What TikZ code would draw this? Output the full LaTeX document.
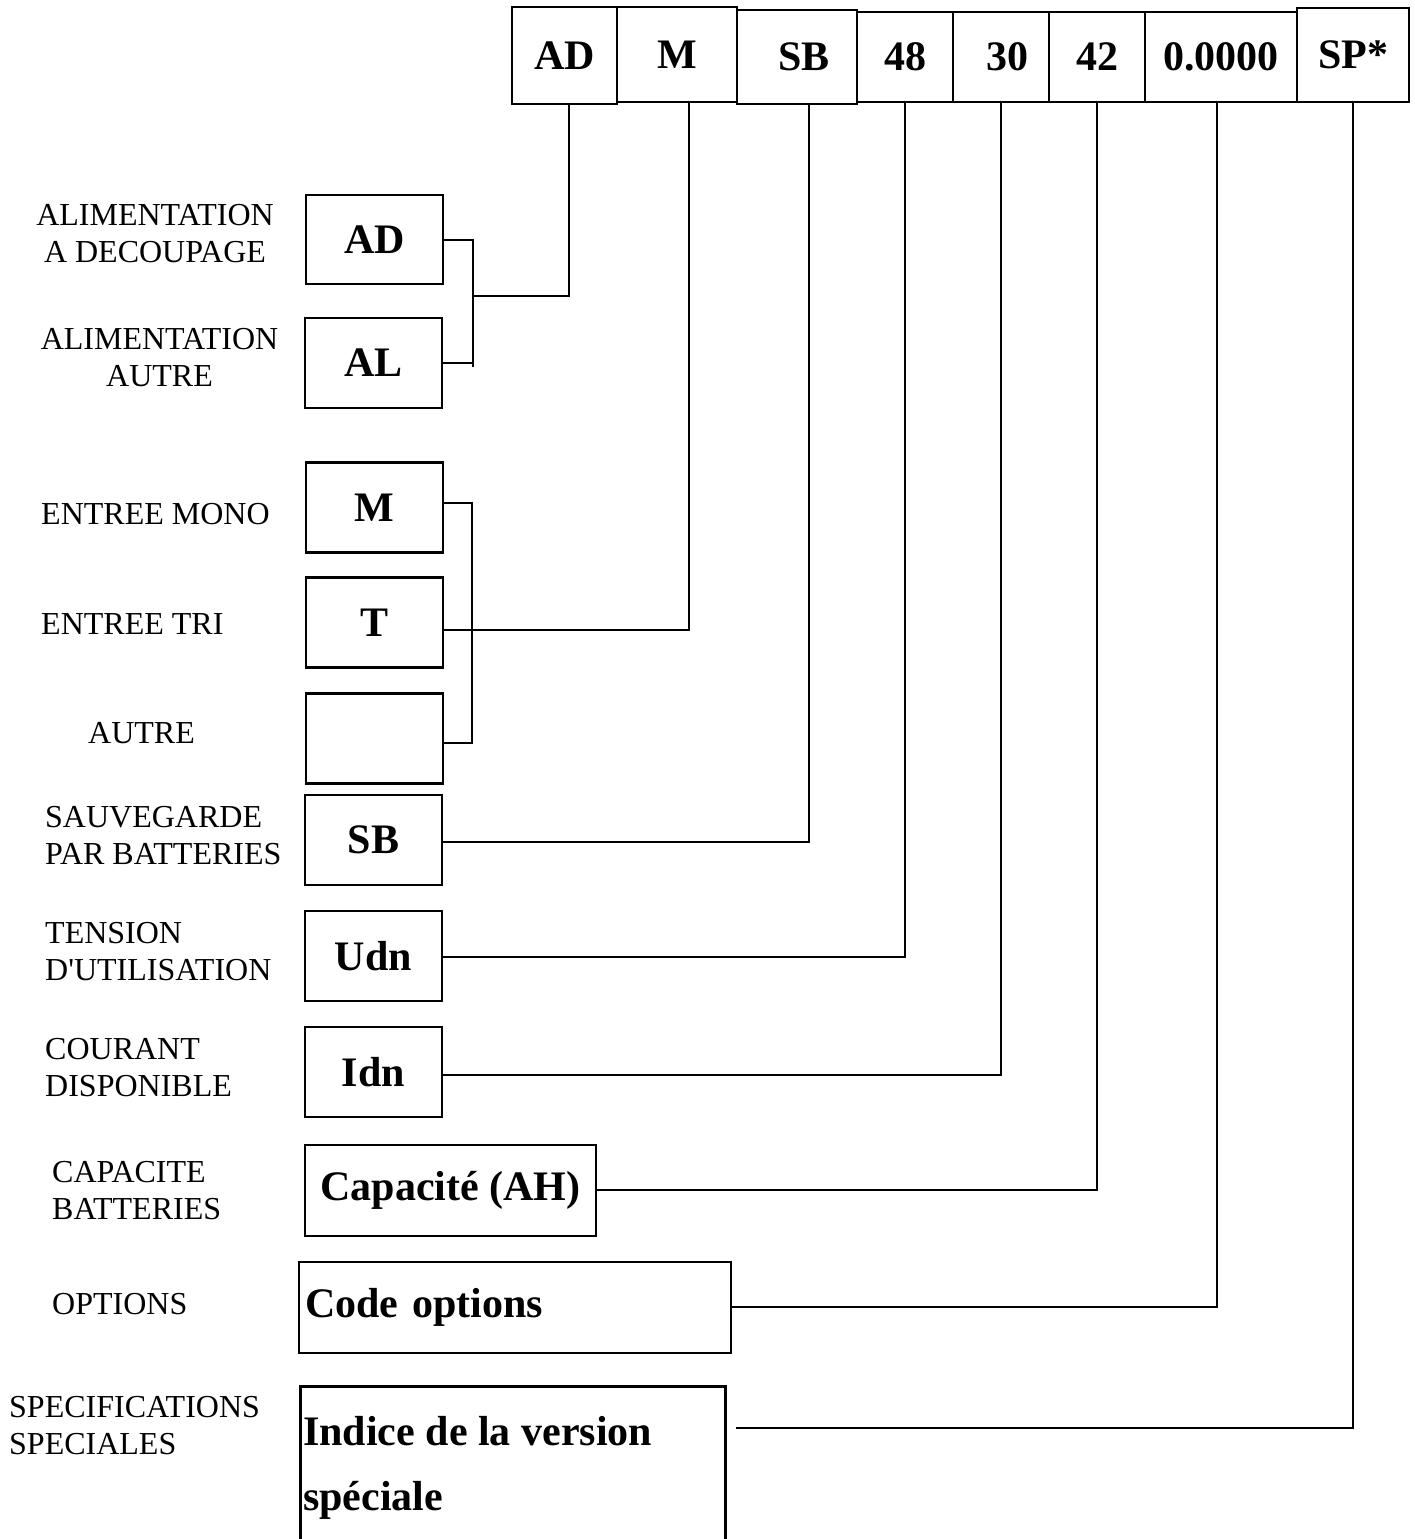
\documentclass[tikz,border=0pt]{standalone}
\usepackage{fontspec}
\setmainfont{Liberation Serif}[Ligatures=TeXOff]
\begin{document}
\begin{tikzpicture}[x=1pt,y=-1pt]
\tikzset{
  box/.style={draw, line width=2.6pt, inner sep=0pt, font=\bfseries\fontsize{42}{50}\selectfont},
  boldtext/.style={inner sep=0pt, font=\bfseries\fontsize{42}{50}\selectfont},
  lab/.style={inner sep=0pt, font=\fontsize{32}{37}\selectfont},
  wire/.style={line width=2pt}
}
\useasboundingbox[fill=white] (0,0) rectangle (1415,1539);
% top code row
\node[box, minimum width=105pt, minimum height=97pt] (tAD) at (564.5,55.5) {AD};
\node[box, minimum width=120pt, minimum height=95pt] (tM) at (677,54.5) {M};
\node[box, minimum width=120pt, minimum height=94pt] (tSB) at (797,57) {\hspace{14pt}SB};
\node[box, minimum width=96pt, minimum height=90pt] (t48) at (905,57) {48};
\node[box, minimum width=96pt, minimum height=90pt] (t30) at (1001,57) {\hspace{12pt}30};
\node[box, minimum width=96pt, minimum height=90pt] (t42) at (1097,57) {42};
\node[box, minimum width=152pt, minimum height=90pt] (t00) at (1221,57) {0.0000};
\node[box, minimum width=112pt, minimum height=94pt] (tSP) at (1353,55) {SP*};
% left boxes
\node[box, minimum width=137pt, minimum height=89pt] (lAD) at (374.5,239.5) {AD};
\node[box, minimum width=137pt, minimum height=90pt] (lAL) at (373.5,363) {AL};
\node[box, minimum width=137pt, minimum height=90pt] (lM) at (374.5,507.5) {M};
\node[box, minimum width=137pt, minimum height=90pt] (lT) at (374.5,622.5) {T};
\node[box, minimum width=137pt, minimum height=90pt] (lX) at (374.5,738.5) {};
\node[box, minimum width=137pt, minimum height=90pt] (lSB) at (373.5,840) {SB};
\node[box, minimum width=137pt, minimum height=90pt] (lU) at (373.5,956) {Udn};
\node[box, minimum width=137pt, minimum height=90pt] (lI) at (373.5,1072) {Idn};
\node[box, minimum width=291pt, minimum height=91pt] (lC) at (450.5,1190.5) {Capacité (AH)};
\node[box, minimum height=91pt, text width=420pt, inner xsep=6pt, align=left] (lO) at (515,1307.5) {Code options};
\node[box, minimum width=425pt, minimum height=260pt, anchor=north west] (lS) at (299,1385) {};
\node[boldtext, anchor=base west] (lS1) at (303,1445) {Indice de la version};
\node[boldtext, anchor=base west] (lS2) at (303,1510) {spéciale};
% labels
\node[lab, align=center] (aAD) at (155,234) {ALIMENTATION\\A DECOUPAGE};
\node[lab, align=center] (aAL) at (159.5,358) {ALIMENTATION\\AUTRE};
\node[lab, anchor=west] (aM) at (41,514) {ENTREE MONO};
\node[lab, anchor=west] (aT) at (41,624) {ENTREE TRI};
\node[lab, anchor=west] (aX) at (88,733) {AUTRE};
\node[lab, anchor=west, align=left] (aSB) at (45,836) {SAUVEGARDE\\PAR BATTERIES};
\node[lab, anchor=west, align=left] (aU) at (45,952) {TENSION\\D'UTILISATION};
\node[lab, anchor=west, align=left] (aI) at (45,1068) {COURANT\\DISPONIBLE};
\node[lab, anchor=west, align=left] (aC) at (52,1191) {CAPACITE\\BATTERIES};
\node[lab, anchor=west] (aO) at (52,1304) {OPTIONS};
\node[lab, anchor=west, align=left] (aS) at (9,1426) {SPECIFICATIONS\\SPECIALES};
% connectors
\coordinate (jA) at (473,296);
\coordinate (cA) at (569,296);
\draw[wire] (lAD.east) -- (lAD.east -| jA) -- ([yshift=-4pt]lAL.east -| jA);
\draw[wire] (lAL.east) -- (lAL.east -| jA);
\draw[wire] (jA) -- (cA) -- (cA |- tAD.south);
\coordinate (jM) at (472,630);
\coordinate (cM) at (689,630);
\draw[wire] ([yshift=4.5pt]lM.east) -- ([yshift=4.5pt]lM.east -| jM) -- ([yshift=-4.5pt]lX.east -| jM) -- ([yshift=-4.5pt]lX.east);
\draw[wire] ([yshift=-7.5pt]lT.east) -- (cM) -- (cM |- tM.south);
\coordinate (cSB) at (809,842);
\draw[wire] (lSB.east |- cSB) -- (cSB) -- (cSB |- tSB.south);
\coordinate (cU) at (905,957);
\draw[wire] (lU.east |- cU) -- (cU) -- (cU |- t48.south);
\coordinate (cI) at (1001,1075);
\draw[wire] (lI.east |- cI) -- (cI) -- (cI |- t30.south);
\coordinate (cC) at (1097,1190);
\draw[wire] (lC.east |- cC) -- (cC) -- (cC |- t42.south);
\coordinate (cO) at (1217,1307);
\draw[wire] (lO.east |- cO) -- (cO) -- (cO |- t00.south);
\coordinate (cS) at (1353,1428);
\draw[wire] ([xshift=9pt]lS.east |- cS) -- (cS) -- (cS |- tSP.south);
\end{tikzpicture}
\end{document}
